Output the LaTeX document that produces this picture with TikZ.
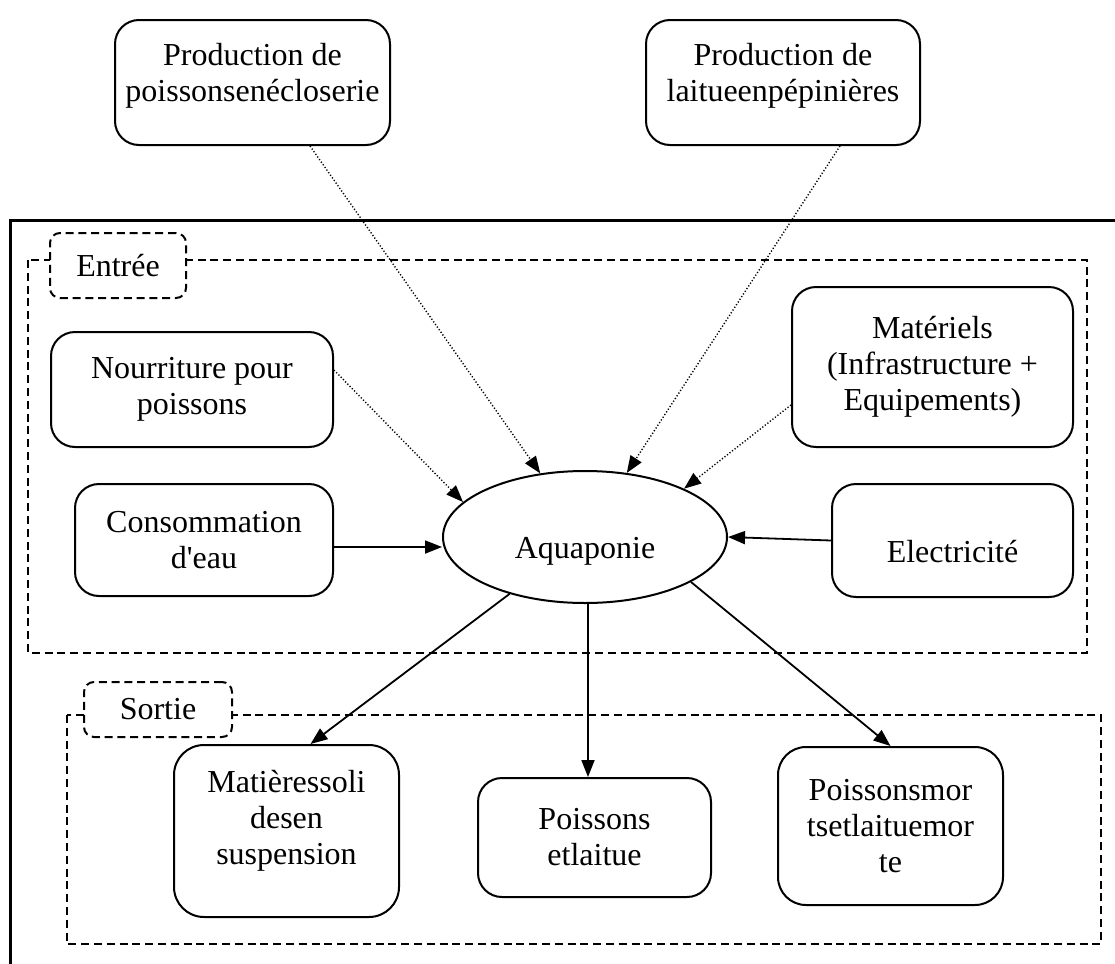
\documentclass[tikz,border=0pt]{standalone}
\usepackage{fontspec}
\setmainfont{Liberation Serif}
\usetikzlibrary{shapes.geometric}
\usetikzlibrary{calc}
\usetikzlibrary{arrows.meta}

\begin{document}
\begin{tikzpicture}[x=0.5pt, y=-0.5pt, font=\fontsize{16}{18}\selectfont]
        % Define styles for shapes
        \tikzstyle{boite} = [draw, line width=1pt, rounded corners=12pt, align=center, inner sep=0pt]
        \tikzstyle{etiquette} = [draw, line width=1pt, dash pattern=on 4pt off 2.4pt, rounded corners=5pt, fill=white, inner sep=0pt]
        \tikzstyle{cadre} = [line width=1pt, dash pattern=on 4pt off 2.4pt]
        \tikzstyle{fleche} = [line width=0.9pt, -{Triangle[length=8.5pt, width=6.5pt]}]
        \tikzstyle{pointille} = [line width=0.7pt, dash pattern=on 0.6pt off 1pt, -{Triangle[length=8.5pt, width=6.5pt]}]
        \useasboundingbox (0,0) rectangle (1115,964);

        % Outer frame and areas
        \draw[line width=1.5pt] (10,964) -- (10,220) -- (1115,220);
        \draw[cadre] (28,260) rectangle (1087,653);
        \draw[cadre] (67,715) rectangle (1101,944);
        \node[etiquette, minimum width=68pt, minimum height=32.5pt] (entree) at (118,265.5) {Entrée};
        \node[etiquette, minimum width=74pt, minimum height=27.5pt] (sortie) at (158,709.5) {Sortie};

        % Draw shapes
        \node[boite, text depth=10.5pt, minimum width=137.5pt, minimum height=62.5pt] (prodPoisson) at (252.5,82.5) {Production de\\poissonsenécloserie};
        \node[boite, text depth=10.5pt, minimum width=137pt, minimum height=62.5pt] (prodLaitue) at (783,82.5) {Production de\\laitueenpépinières};
        \node[boite, minimum width=141pt, minimum height=57.5pt] (nourriture) at (192,389.5) {Nourriture pour\\poissons};
        \node[boite, minimum width=129pt, minimum height=56pt] (consommation) at (204,540) {Consommation\\d\textquotesingle eau};
        \node[boite, minimum width=140.5pt, minimum height=80pt] (materiels) at (932.5,367) {Matériels\\(Infrastructure +\\Equipements)};
        \node[boite, minimum width=120.5pt, minimum height=56.5pt] (electricite) at (952.5,540.5) {\raisebox{-11pt}[0pt][0pt]{Electricité}};
        \node[draw, ellipse, line width=1pt, minimum width=142pt, minimum height=66pt, inner sep=0pt] (aqua) at (585,537) {\raisebox{-10.5pt}[0pt][0pt]{Aquaponie}};
        \node[boite, text depth=13.5pt, rounded corners=15pt, minimum width=112.5pt, minimum height=86pt] (matieres) at (286.5,831) {Matièressoli\\desen\\suspension};
        \node[boite, minimum width=116.5pt, minimum height=59.5pt] (poissonsLaitue) at (594.5,837.5) {Poissons\\etlaitue};
        \node[boite, rounded corners=14pt, minimum width=112.5pt, minimum height=79pt] (morts) at (890.5,826) {Poissonsmor\\tsetlaituemor\\te};

        % Draw arrows
        \draw[pointille] ([xshift=28.75pt]prodPoisson.south) -- (aqua);
        \draw[pointille] ([xshift=28.5pt]prodLaitue.south) -- (aqua);
        \draw[pointille] ([yshift=9.75pt]nourriture.east) -- (aqua.164);
        \draw[pointille] ([yshift=-19pt]materiels.west) -- (aqua.26);
        \draw[fleche] ([yshift=-3.5pt]consommation.east) -- ([yshift=-5pt]aqua.west);
        \draw[fleche] (electricite.west) -- (aqua.east);
        \draw[fleche] (aqua) -- ([xshift=12pt]matieres.north);
        \draw[fleche] ([xshift=1.5pt]aqua.south) -- ([xshift=1.5pt]aqua.south |- poissonsLaitue.north);
        \draw[fleche] (aqua.-23) -- (morts.north);
    \end{tikzpicture}
\end{document}
